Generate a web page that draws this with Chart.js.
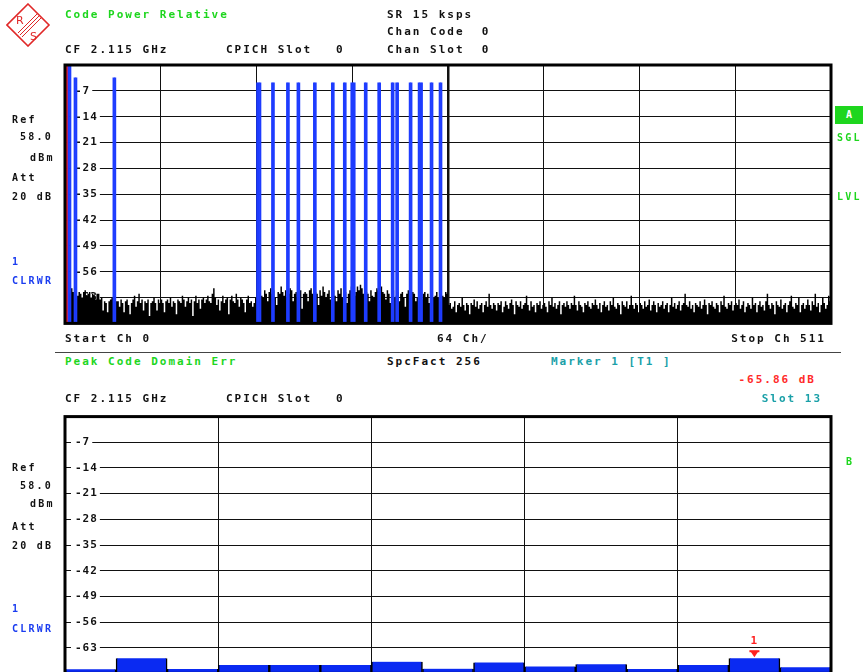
<!DOCTYPE html>
<html><head><meta charset="utf-8">
<script src="https://cdn.jsdelivr.net/npm/chart.js@4.4.0/dist/chart.umd.min.js"></script>
<style>
html,body{margin:0;padding:0;background:#fff;width:863px;height:672px;overflow:hidden;position:relative}
.t{position:absolute;z-index:3;font:bold 11px "DejaVu Sans Mono",monospace;letter-spacing:2px;line-height:12px;white-space:pre;color:#111}
.s{font-size:10px;letter-spacing:2.2px}
.g{color:#1ed61e}.b{color:#1a3cf0}.c{color:#1aa0a8}.r{color:#ff2a2a}
.box{position:absolute;z-index:3;left:835px;top:106px;width:28px;height:18px;background:#1ed61e;color:#fff;font:bold 10px "DejaVu Sans Mono",monospace;text-align:center;line-height:18px}
.sep{position:absolute;left:55px;top:352px;width:786px;height:1px;background:#444}
canvas{position:absolute;left:0}
#c1{top:0}
#c2{top:400px}
#logo{position:absolute;left:6px;top:3px;z-index:3}
</style></head>
<body>
<svg id="logo" width="46" height="44" viewBox="0 0 46 44">
  <polygon points="22,1 43,22 22,43 1,22" fill="none" stroke="#e02828" stroke-width="1.6"/>
  <line x1="12" y1="30" x2="31" y2="11" stroke="#e02828" stroke-width="1"/>
  <line x1="14" y1="32" x2="33" y2="13" stroke="#e02828" stroke-width="1"/>
  <line x1="16" y1="34" x2="35" y2="15" stroke="#e02828" stroke-width="1"/>
  <text x="10" y="21" font-family="DejaVu Sans" font-size="11" fill="#e02828">R</text>
  <text x="24" y="37" font-family="DejaVu Sans" font-size="11" fill="#e02828">S</text>
</svg>

<div class="t g" style="left:65px;top:9px">Code Power Relative</div>
<div class="t" style="left:387px;top:9px">SR 15 ksps</div>
<div class="t" style="left:387px;top:26px">Chan Code  0</div>
<div class="t" style="left:65px;top:44px">CF 2.115 GHz</div>
<div class="t" style="left:226px;top:44px">CPICH Slot</div>
<div class="t" style="left:336px;top:44px">0</div>
<div class="t" style="left:387px;top:44px">Chan Slot  0</div>

<div class="t s" style="left:12px;top:114px">Ref</div>
<div class="t s" style="left:20px;top:131px">58.0</div>
<div class="t s" style="left:30px;top:152px">dBm</div>
<div class="t s" style="left:12px;top:172px">Att</div>
<div class="t s" style="left:12px;top:191px">20 dB</div>
<div class="t s b" style="left:12px;top:256px">1</div>
<div class="t s b" style="left:12px;top:275px">CLRWR</div>

<div class="box">A</div>
<div class="t s g" style="left:837px;top:132px">SGL</div>
<div class="t s g" style="left:837px;top:191px">LVL</div>

<div class="t" style="left:65px;top:333px">Start Ch 0</div>
<div class="t" style="left:437px;top:333px">64 Ch/</div>
<div class="t" style="right:37px;top:333px">Stop Ch 511</div>
<div class="sep"></div>

<div class="t g" style="left:65px;top:356px">Peak Code Domain Err</div>
<div class="t" style="left:387px;top:356px">SpcFact 256</div>
<div class="t c" style="left:551px;top:356px">Marker 1 [T1 ]</div>
<div class="t r" style="right:47px;top:374px">-65.86 dB</div>
<div class="t" style="left:65px;top:393px">CF 2.115 GHz</div>
<div class="t" style="left:226px;top:393px">CPICH Slot</div>
<div class="t" style="left:336px;top:393px">0</div>
<div class="t c" style="right:41px;top:393px">Slot 13</div>

<div class="t s" style="left:12px;top:462px">Ref</div>
<div class="t s" style="left:20px;top:480px">58.0</div>
<div class="t s" style="left:30px;top:498px">dBm</div>
<div class="t s" style="left:12px;top:521px">Att</div>
<div class="t s" style="left:12px;top:540px">20 dB</div>
<div class="t s b" style="left:12px;top:603px">1</div>
<div class="t s b" style="left:12px;top:623px">CLRWR</div>
<div class="t s g" style="left:846px;top:456px">B</div>

<canvas id="c1" width="863" height="340"></canvas>
<canvas id="c2" width="863" height="290"></canvas>

<script>
// ---------- data ----------
const codeCount = 512;
const floorLevel = -70;
const refTop = 0;
const dbStep = 7;
const codeStep = 64;

// relative code power of unused codes (noise floor), codes 0..511
const noiseLevels = [
-61,-61.5,-62,-61,-60.5,-61.5,-62,-60,-62.5,-61.5,-62,-63,-61.5,-61,-62.5,-62,
-61.5,-63,-62,-62.5,-63.5,-62,-62,-63.5,-63,-66.5,-64,-64.5,-67,-64,-63.5,-63,
-63,-63.5,-64,-64,-65.5,-63.5,-64.5,-67,-64,-63.5,-65,-67.5,-64.5,-63.5,-62.5,-65.5,
-64,-62,-64.5,-63.5,-66.5,-64,-64.5,-63.5,-68,-64.5,-64,-63,-64.5,-66.5,-63.5,-64.5,
-63.5,-64.5,-67,-64,-63.5,-64.5,-63,-65.5,-64,-64.5,-67.5,-63.5,-64,-64.5,-62.5,-63.5,
-65.5,-64,-63,-64.5,-63.5,-68,-64,-62.5,-64.5,-63.5,-66,-63.5,-63,-64.5,-63.5,-62.5,
-64,-64.5,-62,-60.5,-63,-65,-63.5,-66.5,-64,-62.5,-64.5,-63.5,-63,-67.5,-63.5,-62.5,
-64,-64.5,-62,-63.5,-65.5,-63,-63.5,-64.5,-67,-63.5,-62.5,-64.5,-64,-65.5,-64.5,-63,
-61,-62,-61.5,-62.5,-63,-61,-62,-64,-61.5,-60.5,-62,-61,-63,-65,-61.5,-62,
-60,-61.5,-62.5,-61,-63,-62,-60.5,-61,-64,-62,-61.5,-63,-62.5,-61,-66,-62,
-61.5,-62,-64,-61,-60.5,-62,-63,-61.5,-62,-65,-61,-62.5,-60,-61.5,-63,-62,
-61,-63.5,-62,-61,-62.5,-64,-61,-62,-60.5,-63,-62,-61.5,-64.5,-62,-61,-60,
-61,-62.5,-61.5,-60,-61,-59.5,-60.5,-62,-63,-61.5,-62,-64,-61,-62.5,-63,-61.5,
-60.5,-61,-59.5,-60,-61.5,-62,-63.5,-61,-62,-64.5,-62,-61,-63,-62.5,-61.5,-64,
-62,-61.5,-63,-65.5,-62,-61,-62.5,-63,-61.5,-62,-64,-63,-62.5,-61,-63.5,-62,
-61.5,-63,-62,-64.5,-62,-61,-63,-62.5,-61.5,-63,-62,-64,-62.5,-63,-61.5,-62,
-65,-64.5,-66,-65.5,-64,-67,-65,-64.5,-65.5,-63,-65,-66.5,-64.5,-65,-67.5,-64.5,
-65,-63.5,-65.5,-64,-66,-65,-64.5,-67,-65,-64,-65.5,-62,-65,-66,-64.5,-65,
-66.5,-64.5,-65,-64,-67,-65.5,-64,-65,-66,-64.5,-63.5,-65,-67.5,-64,-65,-65.5,
-64,-66,-65,-64.5,-62.5,-65,-66.5,-64,-65.5,-65,-67,-64.5,-65,-64,-66,-65,
-64.5,-65.5,-67,-64,-65,-63,-65.5,-64.5,-66,-65,-64,-67.5,-65,-64.5,-65.5,-64,
-65,-66,-64.5,-65,-62.5,-65,-66.5,-64,-65,-65.5,-67,-64.5,-65,-64,-65.5,-66,
-64.5,-65,-63.5,-65,-66,-64.5,-67,-65,-64,-65.5,-65,-66.5,-64,-65,-63,-65.5,
-66,-64.5,-65,-67.5,-64,-65,-65.5,-64,-66,-65,-62.5,-65,-66,-64.5,-65,-67,
-64.5,-65,-66,-64,-65.5,-65,-63.5,-66.5,-65,-64,-65,-67,-64.5,-65.5,-65,-64,
-66,-65,-64.5,-67,-65,-63,-65.5,-64.5,-66,-65,-64,-66.5,-65,-64.5,-62,-65,
-65.5,-64,-66,-65,-67,-64.5,-65,-65.5,-64,-66,-65,-63.5,-65,-67.5,-64.5,-65,
-64,-65.5,-66,-64.5,-65,-67,-64,-65,-62.5,-65.5,-66,-64.5,-65,-64,-66.5,-65,
-64.5,-65,-63.5,-66,-65,-64,-67,-65.5,-64.5,-65,-66,-63,-65,-64.5,-67,-65,
-64,-65.5,-65,-66.5,-64,-62,-65,-66,-64.5,-65,-67.5,-64,-65,-65.5,-63.5,-66,
-65,-64.5,-67,-65,-64,-62.5,-65.5,-66,-64.5,-65,-63,-67,-65,-64.5,-66,-65,
-63.5,-65,-66.5,-64,-65,-62,-65.5,-64.5,-67,-65,-63,-64.5,-66,-65,-62.5,-64
];

// active code channels: first code, number of codes, relative power (dB)
const chanStart = [0, 2, 6, 32, 128, 138, 148, 155, 166, 178, 186, 191, 200, 209, 218, 221, 230, 236, 244, 250];
const chanWidth = [2, 2, 2, 2, 3, 2, 2, 2, 2, 2, 2, 3, 2, 2, 2, 2, 2, 3, 2, 2];
const chanLevel = [0, 0, -3.5, -3.5, -4.8, -4.8, -4.8, -4.8, -4.8, -4.8, -4.8, -4.8, -4.8, -4.8, -4.8, -4.8, -4.8, -4.8, -4.8, -4.8];
const selectedChan = 0;

// peak code domain error per slot
const slotNumbers = [0,1,2,3,4,5,6,7,8,9,10,11,12,13,14];
const slotError = [-68.9, -65.9, -68.8, -67.7, -67.7, -67.7, -66.8, -68.7, -67.0, -68.1, -67.5, -68.8, -67.7, -65.86, -68.3];
const markerSlot = 13;
const markerText = '1';

// ---------- build ----------
const blueData = [], redData = [];
chanStart.forEach((s, i) => {
  for (let k = 0; k < chanWidth[i]; k++) {
    (i === selectedChan ? redData : blueData).push({x: s + k + 0.5, y: [floorLevel, chanLevel[i]]});
  }
});
const noiseData = noiseLevels.map((v, c) => ({x: c + 0.5, y: v}));
const slotData = slotNumbers.map((s, i) => ({x: s + 0.5, y: [floorLevel, slotError[i]]}));

const tickFont = {family: 'DejaVu Sans Mono', size: 11, weight: 'bold'};

const framePlugin = {
  id: 'frame',
  beforeLayout(chart) { chart.ctx.letterSpacing = '1px'; },
  beforeDraw(chart) {
    const a = chart.chartArea, ctx = chart.ctx;
    ctx.letterSpacing = '1px';
    ctx.save(); ctx.fillStyle = '#fff'; ctx.fillRect(a.left, a.top, a.right - a.left, a.bottom - a.top); ctx.restore();
  },
  afterDraw(chart) {
    const a = chart.chartArea, ctx = chart.ctx;
    ctx.save(); ctx.strokeStyle = '#000'; ctx.lineWidth = 3;
    ctx.strokeRect(a.left, a.top, a.right - a.left, a.bottom - a.top); ctx.restore();
  }
};

function yScale() {
  return {
    min: floorLevel, max: refTop,
    afterFit: s => { s.width = 0; },
    border: {display: false},
    grid: {color: '#111', lineWidth: 1, drawTicks: false},
    ticks: {
      stepSize: dbStep, mirror: true, padding: 10, color: '#111', font: tickFont,
      showLabelBackdrop: true, backdropColor: '#fff', backdropPadding: {left: 4, right: 2, top: 1, bottom: 1},
      callback: v => (v === refTop || v === floorLevel) ? null : String(v)
    }
  };
}

const barBase = {barPercentage: 1, categoryPercentage: 1, grouped: false, borderWidth: 0};

new Chart(document.getElementById('c1'), {
  type: 'bar',
  data: {datasets: [
    Object.assign({data: blueData, backgroundColor: '#1e3cff'}, barBase),
    Object.assign({data: redData, backgroundColor: '#ff1a1a'}, barBase),
    {type: 'line', data: noiseData, stepped: 'middle', fill: 'start', backgroundColor: '#000',
     borderColor: 'rgba(0,0,0,0)', borderWidth: 0, pointRadius: 0, tension: 0}
  ]},
  options: {
    responsive: false, animation: false, devicePixelRatio: 1,
    layout: {padding: {left: 65, top: 65, right: 32, bottom: 14}},
    plugins: {legend: {display: false}, tooltip: {enabled: false}},
    scales: {
      x: {
        type: 'linear', min: 0, max: codeCount, offset: false,
        afterFit: s => { s.height = 0; },
        border: {display: false},
        grid: {offset: false, color: '#111', drawTicks: false, lineWidth: c => (c.tick && c.tick.value === codeCount / 2) ? 2.5 : 1},
        ticks: {display: false, stepSize: codeStep}
      },
      y: yScale()
    }
  },
  plugins: [framePlugin]
});

const markerPlugin = {
  id: 'marker',
  afterDatasetsDraw(chart) {
    const ctx = chart.ctx;
    const x = chart.scales.x.getPixelForValue(markerSlot + 0.5);
    const y = chart.scales.y.getPixelForValue(slotError[markerSlot]);
    ctx.save();
    ctx.fillStyle = '#ff2020';
    ctx.fillRect(x - 5, y - 8, 10, 2);
    ctx.beginPath(); ctx.moveTo(x - 4, y - 7); ctx.lineTo(x + 4, y - 7); ctx.lineTo(x, y - 1); ctx.closePath(); ctx.fill();
    ctx.font = 'bold 11px "DejaVu Sans Mono"';
    ctx.textAlign = 'center'; ctx.textBaseline = 'middle';
    ctx.fillText(markerText, x, y - 17);
    ctx.restore();
  }
};

new Chart(document.getElementById('c2'), {
  type: 'bar',
  data: {datasets: [
    {data: slotData, backgroundColor: '#0a2af2', borderColor: '#000', borderWidth: 1.5, barPercentage: 1, categoryPercentage: 1, grouped: false}
  ]},
  options: {
    responsive: false, animation: false, devicePixelRatio: 1,
    layout: {padding: {left: 65, top: 14, right: 32, bottom: 15}},
    plugins: {legend: {display: false}, tooltip: {enabled: false}},
    scales: {
      x: {
        type: 'linear', min: 0, max: slotNumbers.length, offset: false,
        afterFit: s => { s.height = 0; },
        border: {display: false},
        grid: {offset: false, color: '#111', drawTicks: false, lineWidth: 1},
        ticks: {display: false, stepSize: 3}
      },
      y: yScale()
    }
  },
  plugins: [framePlugin, markerPlugin]
});
</script>
</body></html>
